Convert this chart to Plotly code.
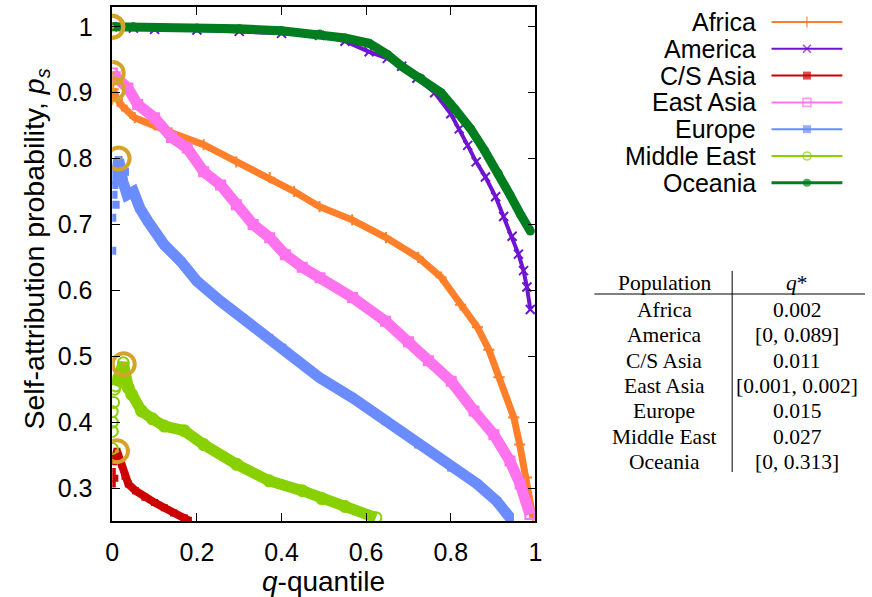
import plotly.graph_objects as go

# ---------------- data ----------------
populations = ["Africa", "America", "C/S Asia", "East Asia", "Europe", "Middle East", "Oceania"]
colors = ["#ff7f2a", "#6f14d0", "#cc0000", "#ff73ee", "#6a8cff", "#88d000", "#007d1f"]
symbols = ["cross-thin", "x-thin", "square", "square-open", "square", "circle-open", "circle"]

africa_q = [0.0, 0.002, 0.012, 0.023, 0.053, 0.1, 0.14, 0.216, 0.293, 0.372, 0.43, 0.49, 0.567,
            0.647, 0.723, 0.777, 0.823, 0.863, 0.89, 0.914, 0.949, 0.963, 0.979, 0.995]
africa_p = [0.89, 0.905, 0.89, 0.88, 0.862, 0.851, 0.839, 0.821, 0.795, 0.771, 0.75, 0.727, 0.707,
            0.68, 0.65, 0.62, 0.578, 0.544, 0.51, 0.468, 0.407, 0.366, 0.316, 0.253]

america_q = [0.0, 0.05, 0.1, 0.2, 0.3, 0.4, 0.49, 0.55, 0.607, 0.65, 0.684, 0.72, 0.762, 0.80,
             0.82, 0.84, 0.86, 0.882, 0.906, 0.925, 0.945, 0.96, 0.972, 0.98, 0.988]
america_p = [1.0, 0.998, 0.996, 0.995, 0.993, 0.99, 0.987, 0.978, 0.962, 0.952, 0.94, 0.922, 0.90,
             0.868, 0.845, 0.82, 0.795, 0.772, 0.742, 0.712, 0.682, 0.655, 0.63, 0.605, 0.571]

cs_asia_q = [0.005, 0.011, 0.022, 0.03, 0.038, 0.055, 0.077, 0.1, 0.123, 0.145, 0.17, 0.18]
cs_asia_p = [0.345, 0.356, 0.336, 0.318, 0.306, 0.296, 0.286, 0.278, 0.27, 0.262, 0.255, 0.251]
cs_asia_extra_q = [0.0, 0.0, 0.003, 0.006]
cs_asia_extra_p = [0.325, 0.306, 0.34, 0.315]

east_asia_q = [0.0, 0.007, 0.037, 0.06, 0.1, 0.14, 0.177, 0.216, 0.256, 0.293, 0.333, 0.372, 0.409,
               0.449, 0.491, 0.568, 0.646, 0.70, 0.747, 0.801, 0.855, 0.902, 0.94, 0.964, 0.987]
east_asia_p = [0.93, 0.924, 0.907, 0.882, 0.862, 0.832, 0.816, 0.78, 0.76, 0.73, 0.70, 0.68, 0.654,
               0.635, 0.619, 0.589, 0.553, 0.522, 0.493, 0.462, 0.417, 0.381, 0.341, 0.306, 0.26]

europe_q = [0.005, 0.015, 0.025, 0.035, 0.05, 0.065, 0.084, 0.123, 0.162, 0.2, 0.255, 0.309, 0.371,
            0.402, 0.491, 0.568, 0.646, 0.723, 0.801, 0.863, 0.909, 0.94]
europe_p = [0.76, 0.798, 0.765, 0.745, 0.75, 0.725, 0.705, 0.669, 0.644, 0.614, 0.584, 0.558, 0.528,
            0.513, 0.467, 0.437, 0.402, 0.366, 0.331, 0.306, 0.28, 0.255]
europe_extra_q = [0.0, 0.0, 0.003, 0.008, 0.012, 0.03]
europe_extra_p = [0.66, 0.71, 0.745, 0.73, 0.775, 0.78]

middle_east_q = [0.008, 0.015, 0.026, 0.038, 0.046, 0.069, 0.095, 0.123, 0.17, 0.216, 0.294, 0.371,
                 0.449, 0.495, 0.55, 0.623]
middle_east_p = [0.455, 0.467, 0.49, 0.452, 0.442, 0.417, 0.405, 0.394, 0.387, 0.366, 0.336, 0.311,
                 0.296, 0.284, 0.272, 0.255]
middle_east_extra_q = [0.0, 0.0, 0.0, 0.0, 0.003, 0.005]
middle_east_extra_p = [0.36, 0.386, 0.40, 0.416, 0.43, 0.45]

oceania_q = [0.0, 0.05, 0.1, 0.2, 0.3, 0.4, 0.49, 0.55, 0.607, 0.65, 0.684, 0.73, 0.777, 0.81,
             0.847, 0.88, 0.912, 0.94, 0.965, 0.988]
oceania_p = [1.0, 1.0, 0.999, 0.998, 0.997, 0.994, 0.989, 0.983, 0.975, 0.958, 0.94, 0.922, 0.90,
             0.875, 0.845, 0.812, 0.778, 0.745, 0.715, 0.69]

series_q = [africa_q, america_q, cs_asia_q, east_asia_q, europe_q, middle_east_q, oceania_q]
series_p = [africa_p, america_p, cs_asia_p, east_asia_p, europe_p, middle_east_p, oceania_p]
extra_q = [[], [], cs_asia_extra_q, [], europe_extra_q, middle_east_extra_q, []]
extra_p = [[], [], cs_asia_extra_p, [], europe_extra_p, middle_east_extra_p, []]

# q* markers (gold circles)
star_q = [0.002, 0.0, 0.011, 0.001, 0.015, 0.027, 0.0]
star_p = [0.905, 1.0, 0.356, 0.93, 0.8, 0.488, 1.0]

table_q = ["0.002", "[0, 0.089]", "0.011", "[0.001, 0.002]", "0.015", "0.027", "[0, 0.313]"]

x_ticks = [0, 0.2, 0.4, 0.6, 0.8, 1]
x_ticktext = ["0", "0.2", "0.4", "0.6", "0.8", "1"]
y_ticks = [0.3, 0.4, 0.5, 0.6, 0.7, 0.8, 0.9, 1.0]
y_ticktext = ["0.3", "0.4", "0.5", "0.6", "0.7", "0.8", "0.9", "1"]

# ---------------- style ----------------
band_width = [7, 4, 8, 11, 11, 11, 9]
marker_size = [8, 9, 7, 9, 8, 11, 9]
W, H = 872, 597
SANS = "Liberation Sans, Arial, sans-serif"
SERIF = "Liberation Serif, Times New Roman, serif"
GOLD = "#d6a32a"

fig = go.Figure()

for i, name in enumerate(populations):
    sym = symbols[i]
    thin = sym.endswith("thin") or sym.endswith("open")
    mk = dict(symbol=sym, size=marker_size[i], color=colors[i],
              line=dict(color=colors[i], width=2 if thin else 0))
    fig.add_trace(go.Scatter(x=series_q[i], y=series_p[i], mode="lines+markers",
                             line=dict(color=colors[i], width=band_width[i]),
                             marker=mk, showlegend=False, hoverinfo="skip",
                             xaxis="x", yaxis="y"))
    if extra_q[i]:
        fig.add_trace(go.Scatter(x=extra_q[i], y=extra_p[i], mode="markers", marker=mk,
                                 showlegend=False, hoverinfo="skip", xaxis="x", yaxis="y"))

# gold q* circles
fig.add_trace(go.Scatter(x=star_q, y=star_p, mode="markers",
                         marker=dict(symbol="circle-open", size=22, color=GOLD,
                                     line=dict(color=GOLD, width=4)),
                         showlegend=False, hoverinfo="skip", xaxis="x", yaxis="y"))
fig.add_trace(go.Scatter(x=star_q, y=star_p, mode="markers",
                         marker=dict(symbol="circle", size=4, color=GOLD),
                         showlegend=False, hoverinfo="skip", xaxis="x", yaxis="y"))

# ---------------- manual legend (overlay pixel axes x2/y2) ----------------
leg_text_x, leg_line_x0, leg_line_x1, leg_mark_x = 763, 777, 849, 813
leg_y0, leg_dy = 22, 26.8
annotations = []
shapes = []
for i, name in enumerate(populations):
    yy = leg_y0 + i * leg_dy
    sym = symbols[i]
    thin = sym.endswith("thin") or sym.endswith("open")
    fig.add_trace(go.Scatter(x=[leg_line_x0, leg_mark_x, leg_line_x1], y=[yy, yy, yy],
                             mode="lines+markers",
                             line=dict(color=colors[i], width=3 if i == 6 else 2),
                             marker=dict(symbol=sym, size=[0, 8, 0], color=colors[i],
                                         line=dict(color=colors[i], width=1.6 if thin else 0)),
                             showlegend=False, hoverinfo="skip", xaxis="x2", yaxis="y2"))
    annotations.append(dict(x=leg_text_x, y=yy, xref="x2", yref="y2", text=name,
                            showarrow=False, xanchor="right", yanchor="middle",
                            font=dict(family=SANS, size=25, color="black")))

# ---------------- table ----------------
tab_c1, tab_c2 = 668, 803
tab_head_y, tab_row0, tab_dy = 283, 310, 25.3
TFS = 21.5
annotations.append(dict(x=tab_c1, y=tab_head_y, xref="x2", yref="y2", text="Population",
                        showarrow=False, xanchor="center", yanchor="middle",
                        font=dict(family=SERIF, size=TFS, color="black")))
annotations.append(dict(x=tab_c2, y=tab_head_y, xref="x2", yref="y2", text="<i>q</i>*",
                        showarrow=False, xanchor="center", yanchor="middle",
                        font=dict(family=SERIF, size=TFS, color="black")))
for i, name in enumerate(populations):
    yy = tab_row0 + i * tab_dy
    annotations.append(dict(x=tab_c1, y=yy, xref="x2", yref="y2", text=name, showarrow=False,
                            xanchor="center", yanchor="middle",
                            font=dict(family=SERIF, size=TFS, color="black")))
    annotations.append(dict(x=tab_c2, y=yy, xref="x2", yref="y2", text=table_q[i], showarrow=False,
                            xanchor="center", yanchor="middle",
                            font=dict(family=SERIF, size=TFS, color="black")))
shapes.append(dict(type="line", xref="x2", yref="y2", x0=597, x1=872, y0=294, y1=294,
                   line=dict(color="black", width=1)))
shapes.append(dict(type="line", xref="x2", yref="y2", x0=737, x1=737, y0=271, y1=472,
                   line=dict(color="black", width=1)))

# axis titles
annotations.append(dict(x=29, y=249, xref="x2", yref="y2",
                        text="Self-attribution probability, <i>p</i><sub><i>s</i></sub>",
                        textangle=-90, showarrow=False, xanchor="center", yanchor="middle",
                        font=dict(family=SANS, size=28.5, color="black")))
annotations.append(dict(x=322, y=581, xref="x2", yref="y2", text="<i>q</i>-quantile",
                        showarrow=False, xanchor="center", yanchor="middle",
                        font=dict(family=SANS, size=28, color="black")))

plot_l, plot_r, plot_t, plot_b = 107, 537, 7, 521
fig.update_layout(
    width=W, height=H, autosize=False,
    margin=dict(l=0, r=0, t=0, b=0),
    paper_bgcolor="white", plot_bgcolor="rgba(0,0,0,0)",
    showlegend=False,
    annotations=annotations, shapes=shapes,
    xaxis=dict(domain=[plot_l / W, plot_r / W], range=[0, 1], tickvals=x_ticks,
               ticktext=x_ticktext, ticks="inside", ticklen=8, tickwidth=1.2,
               tickcolor="black", showline=True, linecolor="black", linewidth=1.5,
               mirror="ticks", showgrid=False, zeroline=False, anchor="y",
               tickfont=dict(family=SANS, size=25, color="black"), ticklabelstandoff=8),
    yaxis=dict(domain=[1 - plot_b / H, 1 - plot_t / H], range=[0.25, 1.03], tickvals=y_ticks,
               ticktext=y_ticktext, ticks="inside", ticklen=8, tickwidth=1.2,
               tickcolor="black", showline=True, linecolor="black", linewidth=1.5,
               mirror="ticks", showgrid=False, zeroline=False, anchor="x",
               tickfont=dict(family=SANS, size=25, color="black"), ticklabelstandoff=13),
    xaxis2=dict(domain=[0, 1], range=[0, W], visible=False, anchor="y2", fixedrange=True),
    yaxis2=dict(domain=[0, 1], range=[H, 0], visible=False, anchor="x2", fixedrange=True),
)

fig.write_html("out.html")
